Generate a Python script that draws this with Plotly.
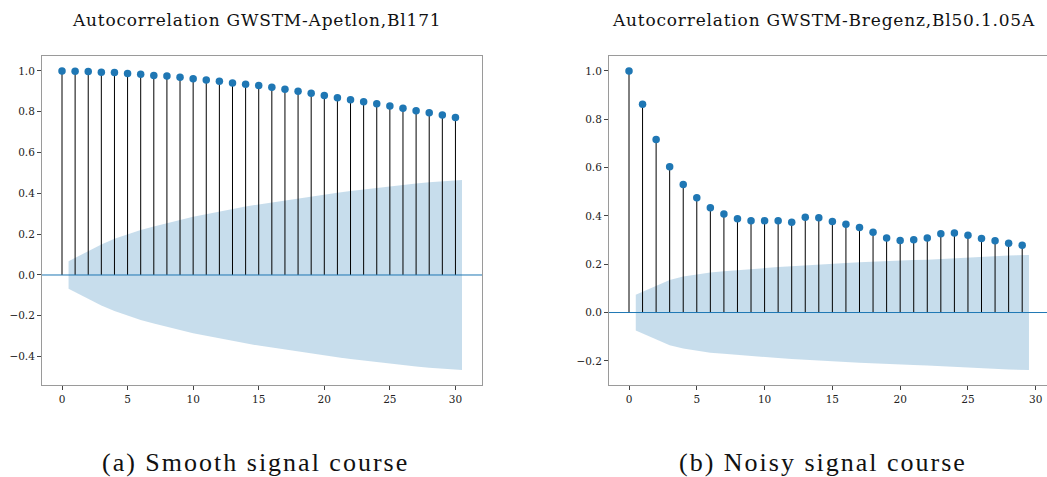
import plotly.graph_objects as go

W, H = 1047, 477

# Autocorrelation values, lags 0..30 (Apetlon) and 0..29 (Bregenz)
lags_a = list(range(31))
acf_a = [1.000, 0.998, 0.997, 0.993, 0.992, 0.987, 0.983, 0.978, 0.975, 0.969,
         0.962, 0.956, 0.949, 0.941, 0.934, 0.928, 0.920, 0.910, 0.900, 0.890,
         0.880, 0.869, 0.859, 0.849, 0.839, 0.828, 0.817, 0.805, 0.795, 0.784,
         0.772]
# half-width of the confidence band for lags 1..30
conf_a = [0.067, 0.116, 0.150, 0.177, 0.200, 0.220, 0.238, 0.255, 0.270, 0.285,
          0.298, 0.311, 0.323, 0.335, 0.346, 0.356, 0.366, 0.376, 0.385, 0.394,
          0.403, 0.411, 0.419, 0.427, 0.434, 0.441, 0.448, 0.454, 0.460, 0.466]

lags_b = list(range(30))
acf_b = [1.000, 0.862, 0.716, 0.604, 0.530, 0.475, 0.434, 0.408, 0.388, 0.380,
         0.380, 0.380, 0.374, 0.394, 0.392, 0.377, 0.365, 0.352, 0.332, 0.309,
         0.298, 0.301, 0.309, 0.326, 0.329, 0.320, 0.307, 0.297, 0.287, 0.279]
# half-width of the confidence band for lags 1..29
conf_b = [0.074, 0.112, 0.135, 0.149, 0.159, 0.166, 0.171, 0.176, 0.180, 0.184,
          0.188, 0.192, 0.196, 0.199, 0.202, 0.205, 0.208, 0.211, 0.213, 0.215,
          0.217, 0.219, 0.222, 0.225, 0.228, 0.231, 0.234, 0.236, 0.238]

titles = ["Autocorrelation GWSTM-Apetlon,Bl171", "Autocorrelation GWSTM-Bregenz,Bl50.1.05A"]
captions = ["(a) Smooth signal course", "(b) Noisy signal course"]

BLUE = "#1f77b4"
BAND = "rgba(31,119,180,0.25)"
FRAME = "#9a9a9a"
SERIF = "DejaVu Serif"

# axes boxes in pixels: (left, right, top, bottom)
boxes = [(42, 482, 56, 385), (609, 1047, 56, 385)]
xranges = [[-1.525, 32.025], [-1.475, 30.83]]
yranges = [[-0.539, 1.073], [-0.300, 1.062]]
yticks = [[-0.4, -0.2, 0.0, 0.2, 0.4, 0.6, 0.8, 1.0], [-0.2, 0.0, 0.2, 0.4, 0.6, 0.8, 1.0]]
title_cx = [256, 824]
caption_cx = [255, 823]

fig = go.Figure()


def add_panel(i, lags, acf, conf):
    xa = "x" if i == 0 else "x2"
    ya = "y" if i == 0 else "y2"
    # confidence band, ends widened by half a lag
    bx = [float(v) for v in lags[1:]]
    bx[0] -= 0.5
    bx[-1] += 0.5
    fig.add_trace(go.Scatter(x=bx, y=conf, mode="lines", line=dict(width=0),
                             hoverinfo="skip", showlegend=False, xaxis=xa, yaxis=ya))
    fig.add_trace(go.Scatter(x=bx, y=[-c for c in conf], mode="lines", line=dict(width=0),
                             fill="tonexty", fillcolor=BAND, hoverinfo="skip",
                             showlegend=False, xaxis=xa, yaxis=ya))
    # stems
    sx, sy = [], []
    for lag, r in zip(lags, acf):
        sx += [lag, lag, None]
        sy += [0, r, None]
    fig.add_trace(go.Scatter(x=sx, y=sy, mode="lines", line=dict(color="black", width=1),
                             hoverinfo="skip", showlegend=False, xaxis=xa, yaxis=ya))
    # markers
    fig.add_trace(go.Scatter(x=lags, y=acf, mode="markers",
                             marker=dict(color=BLUE, size=7.5),
                             showlegend=False, xaxis=xa, yaxis=ya))


add_panel(0, lags_a, acf_a, conf_a)
add_panel(1, lags_b, acf_b, conf_b)

tickfont = dict(family=SERIF, size=10.5, color="#222")
layout = dict(width=W, height=H, margin=dict(l=0, r=0, t=0, b=0),
              plot_bgcolor="white", paper_bgcolor="white", showlegend=False)

annotations = []
shapes = []
for i, (l, r, t, b) in enumerate(boxes):
    sfx = "" if i == 0 else "2"
    dom_x = [l / W, r / W]
    dom_y = [(H - b) / H, (H - t) / H]
    layout["xaxis" + sfx] = dict(domain=dom_x, range=xranges[i], anchor="y" + sfx,
                                 tickvals=[0, 5, 10, 15, 20, 25, 30], ticks="outside",
                                 ticklen=4, tickcolor="#444", tickfont=tickfont,
                                 showgrid=False, zeroline=False, showline=True,
                                 linecolor=FRAME, linewidth=1, mirror=True)
    layout["yaxis" + sfx] = dict(domain=dom_y, range=yranges[i], anchor="x" + sfx,
                                 tickvals=yticks[i],
                                 ticktext=[f"{v:.1f}".replace("-", "\u2212") for v in yticks[i]],
                                 ticks="outside", ticklen=4, tickcolor="#444",
                                 tickfont=tickfont, showgrid=False, zeroline=False,
                                 showline=True, linecolor=FRAME, linewidth=1,
                                 mirror=(i == 0))
    # horizontal zero line across the axes
    shapes.append(dict(type="line", xref="x" + sfx + " domain", yref="y" + sfx,
                       x0=0, x1=1, y0=0, y1=0, line=dict(color=BLUE, width=1), layer="above"))
    annotations.append(dict(text=f"<span style='letter-spacing:0.8px'>{titles[i]}</span>",
                            x=title_cx[i] / W, y=(H - 20) / H, xref="paper", yref="paper",
                            xanchor="center", yanchor="middle", showarrow=False,
                            font=dict(family=SERIF, size=17, color="#111")))
    annotations.append(dict(text=f"<span style='letter-spacing:2px'>{captions[i]}</span>",
                            x=caption_cx[i] / W, y=(H - 462) / H, xref="paper",
                            yref="paper", xanchor="center", yanchor="middle", showarrow=False,
                            font=dict(family="Liberation Serif", size=26, color="#111")))

layout["annotations"] = annotations
layout["shapes"] = shapes
fig.update_layout(**layout)
fig.write_html("out.html")
